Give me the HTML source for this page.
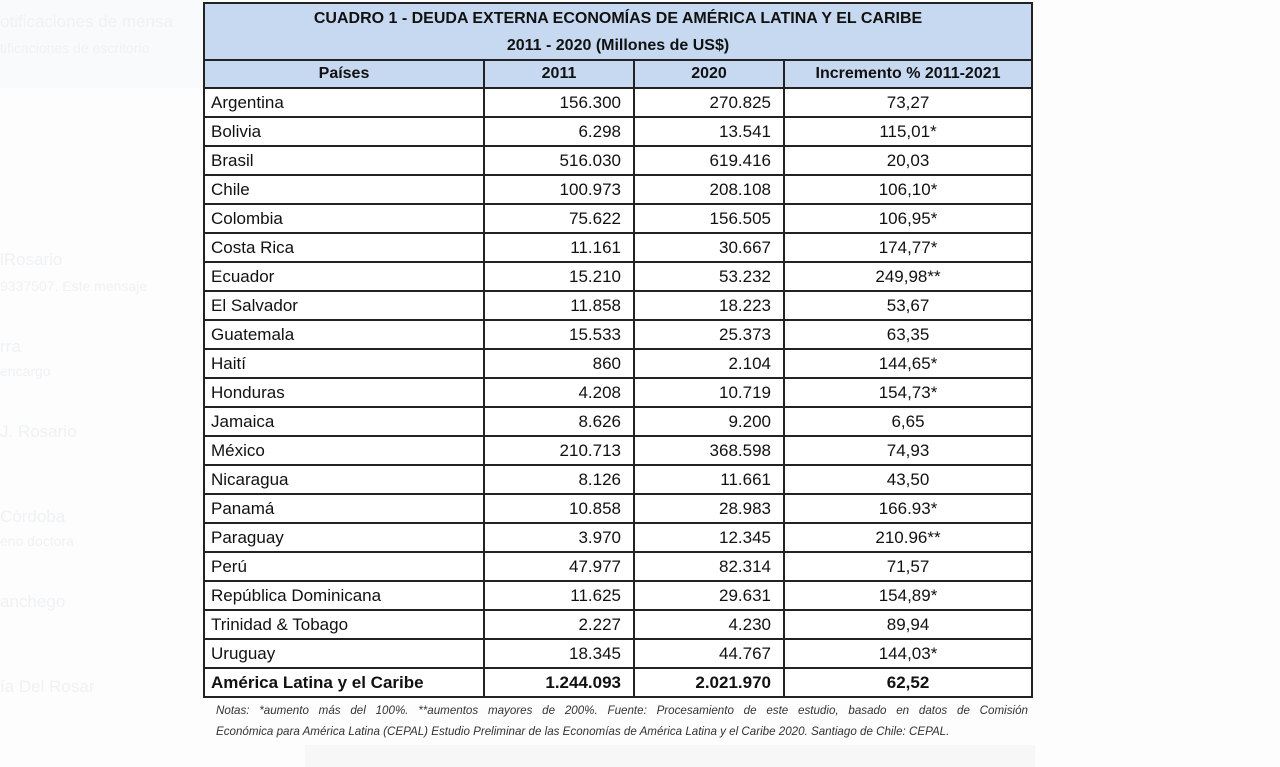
<!DOCTYPE html>
<html><head><meta charset="utf-8">
<style>
html,body{margin:0;padding:0;width:1280px;height:767px;overflow:hidden;background:#fdfdfd;font-family:"Liberation Sans",sans-serif;}
.bg{position:absolute;color:#f0f1f3;font-size:17px;white-space:nowrap}
.topband{position:absolute;left:0;top:0;width:205px;height:88px;background:#f8fafc}
table{position:absolute;left:203px;top:2px;border-collapse:collapse;table-layout:fixed;width:828px;background:#fff}
td,th{border:2px solid #222;padding:0 6px;font-size:17px;color:#111;height:27px;line-height:27px;white-space:nowrap;overflow:hidden}
.title th{background:#c6d9f0;border-bottom:none;font-size:16px;height:29px;line-height:29px}
.title2 th{background:#c6d9f0;border-top:none;font-size:16px;height:26px;line-height:26px}
.hdr th{background:#c6d9f0;font-size:16px;height:26px;line-height:26px}
td.n{text-align:right;padding-right:12px}
td.c{text-align:center}
tr.tot td{font-weight:bold}
.notes{position:absolute;left:216px;top:700px;font-size:11.6px;font-style:italic;color:#333;line-height:21px;width:812px}
.notes .l1{text-align:justify;text-align-last:justify;white-space:nowrap}
.bottomband{position:absolute;left:305px;top:745px;width:730px;height:22px;background:#f7f7f7}
</style></head><body>
<div class="topband"></div>
<div class="bg" style="left:0;top:12px">otificaciones de mensa</div>
<div class="bg" style="left:0;top:40px;font-size:14px">tificaciones de escritorio</div>
<div class="bg" style="left:0;top:250px">lRosario</div>
<div class="bg" style="left:0;top:278px;font-size:14px">9337507. Este mensaje</div>
<div class="bg" style="left:0;top:337px">rra</div>
<div class="bg" style="left:0;top:363px;font-size:14px">encargo</div>
<div class="bg" style="left:0;top:422px">J. Rosario</div>
<div class="bg" style="left:0;top:507px">Córdoba</div>
<div class="bg" style="left:0;top:533px;font-size:14px">eno doctora</div>
<div class="bg" style="left:0;top:592px">anchego</div>
<div class="bg" style="left:0;top:677px">ía Del Rosar</div>
<div class="bottomband"></div>

<table>
<colgroup><col style="width:280px"><col style="width:150px"><col style="width:150px"><col style="width:248px"></colgroup>
<tr class="title"><th colspan="4">CUADRO 1 - DEUDA EXTERNA ECONOMÍAS DE AMÉRICA LATINA Y EL CARIBE</th></tr>
<tr class="title2"><th colspan="4">2011 - 2020 (Millones de US$)</th></tr>
<tr class="hdr"><th>Países</th><th>2011</th><th>2020</th><th>Incremento % 2011-2021</th></tr>
<tr><td>Argentina</td><td class="n">156.300</td><td class="n">270.825</td><td class="c">73,27</td></tr>
<tr><td>Bolivia</td><td class="n">6.298</td><td class="n">13.541</td><td class="c">115,01*</td></tr>
<tr><td>Brasil</td><td class="n">516.030</td><td class="n">619.416</td><td class="c">20,03</td></tr>
<tr><td>Chile</td><td class="n">100.973</td><td class="n">208.108</td><td class="c">106,10*</td></tr>
<tr><td>Colombia</td><td class="n">75.622</td><td class="n">156.505</td><td class="c">106,95*</td></tr>
<tr><td>Costa Rica</td><td class="n">11.161</td><td class="n">30.667</td><td class="c">174,77*</td></tr>
<tr><td>Ecuador</td><td class="n">15.210</td><td class="n">53.232</td><td class="c">249,98**</td></tr>
<tr><td>El Salvador</td><td class="n">11.858</td><td class="n">18.223</td><td class="c">53,67</td></tr>
<tr><td>Guatemala</td><td class="n">15.533</td><td class="n">25.373</td><td class="c">63,35</td></tr>
<tr><td>Haití</td><td class="n">860</td><td class="n">2.104</td><td class="c">144,65*</td></tr>
<tr><td>Honduras</td><td class="n">4.208</td><td class="n">10.719</td><td class="c">154,73*</td></tr>
<tr><td>Jamaica</td><td class="n">8.626</td><td class="n">9.200</td><td class="c">6,65</td></tr>
<tr><td>México</td><td class="n">210.713</td><td class="n">368.598</td><td class="c">74,93</td></tr>
<tr><td>Nicaragua</td><td class="n">8.126</td><td class="n">11.661</td><td class="c">43,50</td></tr>
<tr><td>Panamá</td><td class="n">10.858</td><td class="n">28.983</td><td class="c">166.93*</td></tr>
<tr><td>Paraguay</td><td class="n">3.970</td><td class="n">12.345</td><td class="c">210.96**</td></tr>
<tr><td>Perú</td><td class="n">47.977</td><td class="n">82.314</td><td class="c">71,57</td></tr>
<tr><td>República Dominicana</td><td class="n">11.625</td><td class="n">29.631</td><td class="c">154,89*</td></tr>
<tr><td>Trinidad &amp; Tobago</td><td class="n">2.227</td><td class="n">4.230</td><td class="c">89,94</td></tr>
<tr><td>Uruguay</td><td class="n">18.345</td><td class="n">44.767</td><td class="c">144,03*</td></tr>
<tr class="tot"><td>América Latina y el Caribe</td><td class="n">1.244.093</td><td class="n">2.021.970</td><td class="c">62,52</td></tr>
</table>
<div class="notes"><div class="l1">Notas: *aumento más del 100%. **aumentos mayores de 200%. Fuente: Procesamiento de este estudio, basado en datos de Comisión</div><div>Económica para América Latina (CEPAL) Estudio Preliminar de las Economías de América Latina y el Caribe 2020. Santiago de Chile: CEPAL.</div></div>
</body></html>
